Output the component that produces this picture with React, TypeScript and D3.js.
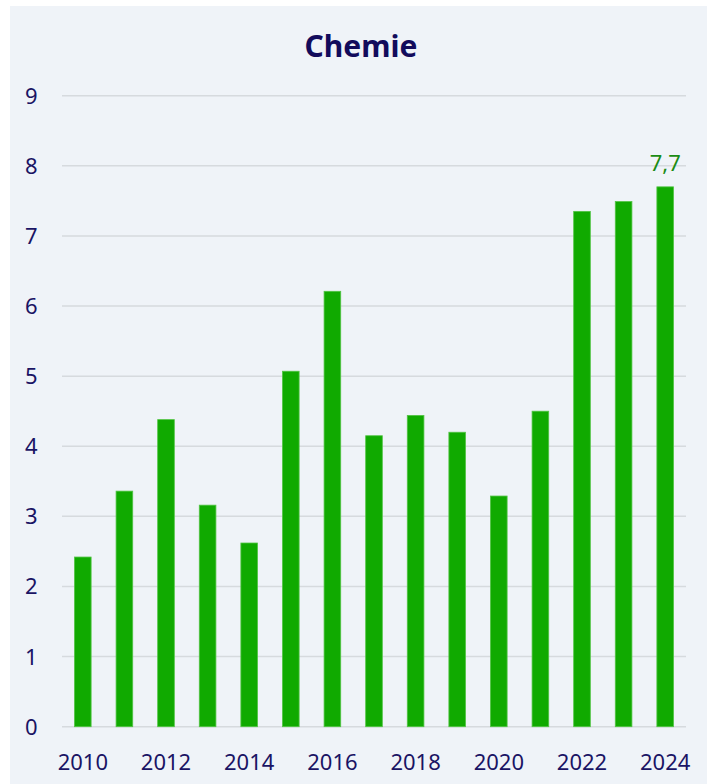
import React, {useEffect, useRef} from 'react'
import * as d3 from 'd3'

const years = ['2010','2011','2012','2013','2014','2015','2016','2017','2018','2019','2020','2021','2022','2023','2024']
const values = [2.42,3.36,4.38,3.16,2.62,5.07,6.21,4.15,4.44,4.2,3.29,4.5,7.35,7.49,7.7]
const yTicks = [0,1,2,3,4,5,6,7,8,9]
const xLabels = ['2010','2012','2014','2016','2018','2020','2022','2024']
const title = 'Chemie'

const W = 707, H = 784
const font = '"Noto Sans", sans-serif'

export default function App(){
  const ref = useRef<SVGSVGElement | null>(null)

  useEffect(() => {
    const svg = d3.select(ref.current)
    svg.selectAll('*').remove()

    svg.append('rect').attr('x',10).attr('y',6).attr('width',W-10).attr('height',H-6).attr('fill','#eff3f8')

    var x = d3.scaleBand().domain(years).range([62,686]).paddingInner(0.6).paddingOuter(0.3)
    var y = d3.scaleLinear().domain([0,9]).range([726.7,95.7])

    svg.append('text')
      .attr('x',361).attr('y',57)
      .attr('text-anchor','middle')
      .style('font-family',font).style('font-weight',700).style('font-size','30px')
      .attr('fill','#120b5c')
      .text(title)

    const grid = svg.append('g')
    grid.selectAll('line').data(yTicks).join('line')
      .attr('x1',62).attr('x2',686)
      .attr('y1',d => y(d)).attr('y2',d => y(d))
      .attr('stroke','#d6dade').attr('stroke-width',1.5)

    svg.append('g').selectAll('text').data(yTicks).join('text')
      .attr('x',25).attr('y',d => y(d))
      .attr('dy','0.36em')
      .style('font-family',font).style('font-size','22px')
      .attr('fill','#1a1464')
      .text(d => d)

    svg.append('g').selectAll('rect').data(values).join('rect')
      .attr('x',(d,i) => x(years[i])!)
      .attr('width',x.bandwidth())
      .attr('y',d => y(d))
      .attr('height',d => y(0) - y(d))
      .attr('fill','#10aa00')
      .attr('stroke','#52c444').attr('stroke-width',0.8)

    svg.append('g').selectAll('text').data(xLabels).join('text')
      .attr('x',d => x(d)! + x.bandwidth()/2)
      .attr('y',770)
      .attr('text-anchor','middle')
      .style('font-family',font).style('font-size','22px')
      .attr('fill','#1a1464')
      .text(d => d)

    const last = values.length - 1
    svg.append('text')
      .attr('x',x(years[last])! + x.bandwidth()/2)
      .attr('y',y(values[last]) - 16)
      .attr('text-anchor','middle')
      .style('font-family',font).style('font-size','22px')
      .attr('fill','#1b8c14')
      .text(d3.format('.1f')(values[last]).replace('.',','))
  }, [])

  return (
    <svg ref={ref} width={W} height={H} style={{position:'absolute',left:0,top:0,display:'block'}} />
  )
}
